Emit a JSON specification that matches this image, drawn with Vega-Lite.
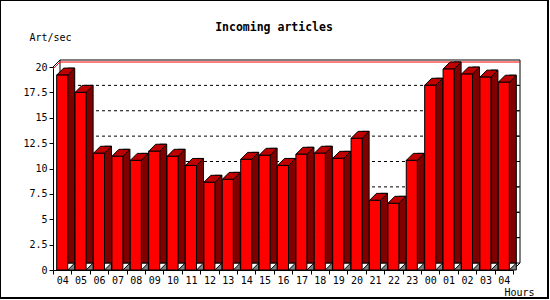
{
  "$schema": "https://vega.github.io/schema/vega-lite/v6.json",
  "width": 548,
  "height": 298,
  "autosize": "none",
  "padding": {"left": 0, "top": 0, "right": 2, "bottom": 2},
  "background": "white",
  "config": {
    "view": {"stroke": "black", "strokeWidth": 2},
    "axis": {"grid": false}
  },
  "title": {
    "text": "Incoming articles",
    "anchor": "middle",
    "frame": "group",
    "offset": -39,
    "baseline": "middle",
    "font": "DejaVu Sans Mono",
    "fontSize": 11.5,
    "fontWeight": "bold",
    "color": "black"
  },
  "resolve": {"axis": {"x": "independent", "y": "independent"}},
  "datasets": {
    "bars": [
      {"slot": "a04", "v": 19.2},
      {"slot": "a05", "v": 17.5},
      {"slot": "a06", "v": 11.5},
      {"slot": "a07", "v": 11.2},
      {"slot": "a08", "v": 10.8},
      {"slot": "a09", "v": 11.7},
      {"slot": "a10", "v": 11.2},
      {"slot": "a11", "v": 10.3},
      {"slot": "a12", "v": 8.64},
      {"slot": "a13", "v": 8.93},
      {"slot": "a14", "v": 10.9},
      {"slot": "a15", "v": 11.3},
      {"slot": "a16", "v": 10.3},
      {"slot": "a17", "v": 11.4},
      {"slot": "a18", "v": 11.5},
      {"slot": "a19", "v": 11.0},
      {"slot": "a20", "v": 12.97},
      {"slot": "a21", "v": 6.86},
      {"slot": "a22", "v": 6.57},
      {"slot": "a23", "v": 10.8},
      {"slot": "b00", "v": 18.2},
      {"slot": "b01", "v": 19.8},
      {"slot": "b02", "v": 19.3},
      {"slot": "b03", "v": 19.0},
      {"slot": "b04", "v": 18.5}
    ],
    "grid": [
      {"g": 2.5}, {"g": 5}, {"g": 7.5}, {"g": 10}, {"g": 12.5}, {"g": 15}, {"g": 17.5}
    ],
    "one": [{}]
  },
  "layer": [
    {
      "data": {"name": "one"},
      "mark": {"type": "rect", "fill": "white", "stroke": "black", "strokeWidth": 1, "xOffset": 7, "x2Offset": 7, "yOffset": -7, "y2Offset": -7},
      "encoding": {
        "x": {"datum": "a04", "bandPosition": 0, "type": "ordinal", "axis": null,
              "scale": {"type": "band", "domain": ["a04","a05","a06","a07","a08","a09","a10","a11","a12","a13","a14","a15","a16","a17","a18","a19","a20","a21","a22","a23","b00","b01","b02","b03","b04"], "range": [53, 513], "paddingInner": 0, "paddingOuter": 0}},
        "x2": {"datum": "b04", "bandPosition": 1},
        "y": {"datum": 0, "type": "quantitative", "axis": null,
              "scale": {"domain": [0, 20], "range": [270, 67], "nice": false, "zero": true}},
        "y2": {"datum": 20}
      }
    },
    {
      "data": {"name": "grid"},
      "mark": {"type": "rule", "stroke": "black", "strokeWidth": 1, "strokeDash": [3, 3], "xOffset": 7, "x2Offset": 7, "yOffset": -7, "y2Offset": -7},
      "encoding": {
        "x": {"datum": "a04", "bandPosition": 0, "type": "ordinal", "axis": null},
        "x2": {"datum": "b04", "bandPosition": 1},
        "y": {"field": "g", "type": "quantitative", "axis": null}
      }
    },
    {
      "data": {"name": "grid"},
      "mark": {"type": "rule", "stroke": "black", "strokeWidth": 1, "xOffset": 4, "x2Offset": 7, "yOffset": -7, "y2Offset": -7},
      "encoding": {
        "x": {"datum": "b04", "bandPosition": 1, "type": "ordinal", "axis": null},
        "x2": {"datum": "b04", "bandPosition": 1},
        "y": {"field": "g", "type": "quantitative", "axis": null}
      }
    },
    {
      "data": {"name": "one"},
      "mark": {"type": "rule", "stroke": "black", "strokeWidth": 1, "x2Offset": 7, "y2Offset": -7},
      "encoding": {
        "x": {"datum": "a04", "bandPosition": 0, "type": "ordinal", "axis": null},
        "x2": {"datum": "a04", "bandPosition": 0},
        "y": {"datum": 20, "type": "quantitative", "axis": null},
        "y2": {"datum": 20}
      }
    },
    {
      "data": {"name": "one"},
      "mark": {"type": "rule", "stroke": "black", "strokeWidth": 1, "x2Offset": 7, "y2Offset": -7},
      "encoding": {
        "x": {"datum": "b04", "bandPosition": 1, "type": "ordinal", "axis": null},
        "x2": {"datum": "b04", "bandPosition": 1},
        "y": {"datum": 0, "type": "quantitative", "axis": null},
        "y2": {"datum": 0}
      }
    },
    {
      "data": {"name": "bars"},
      "transform": [{"aggregate": [{"op": "max", "field": "v", "as": "m"}]}],
      "mark": {"type": "rule", "stroke": "#ff0000", "strokeWidth": 1, "xOffset": 7, "x2Offset": 7, "yOffset": -7, "y2Offset": -7},
      "encoding": {
        "x": {"datum": "a04", "bandPosition": 0, "type": "ordinal", "axis": null},
        "x2": {"datum": "b04", "bandPosition": 1},
        "y": {"field": "m", "type": "quantitative", "axis": null}
      }
    },
    {
      "data": {"name": "bars"},
      "transform": [{"aggregate": [{"op": "max", "field": "v", "as": "m"}]}],
      "mark": {"type": "rule", "stroke": "#ff0000", "strokeWidth": 1, "x2Offset": 7, "y2Offset": -7},
      "encoding": {
        "x": {"datum": "a04", "bandPosition": 0, "type": "ordinal", "axis": null},
        "x2": {"datum": "a04", "bandPosition": 0},
        "y": {"field": "m", "type": "quantitative", "axis": null},
        "y2": {"field": "m"}
      }
    },
    {
      "data": {"name": "bars"},
      "mark": {"type": "bar", "width": 7, "xOffset": 9.02, "yOffset": -7, "fill": "#800000", "stroke": "black", "strokeWidth": 1},
      "encoding": {
        "x": {"field": "slot", "type": "ordinal", "axis": null},
        "y": {"field": "v", "type": "quantitative", "axis": null}
      }
    },
    {
      "data": {"name": "bars"},
      "mark": {"type": "point", "shape": "M5.52,0L12.52,-7L12.52,0Z", "size": 4, "filled": true, "fill": "#808080", "stroke": "black", "strokeWidth": 1, "opacity": 1},
      "encoding": {
        "x": {"field": "slot", "type": "ordinal", "axis": null},
        "y": {"datum": 0, "type": "quantitative", "axis": null}
      }
    },
    {
      "data": {"name": "bars"},
      "mark": {"type": "point", "shape": "M-5.52,0L1.48,-7L12.52,-7L5.52,0Z", "size": 4, "filled": true, "fill": "#c00000", "stroke": "black", "strokeWidth": 1, "opacity": 1},
      "encoding": {
        "x": {"field": "slot", "type": "ordinal", "axis": null},
        "y": {"field": "v", "type": "quantitative", "axis": null}
      }
    },
    {
      "data": {"name": "bars"},
      "mark": {"type": "bar", "width": {"band": 0.6}, "fill": "#ff0000", "stroke": "black", "strokeWidth": 1},
      "encoding": {
        "x": {"field": "slot", "type": "ordinal",
              "axis": {"offset": -28, "labelExpr": "slice(datum.label, 1)", "tickBand": "extent", "bandPosition": 0.5, "tickSize": 4, "labelAngle": 0,
                       "labelOverlap": false,
                       "labelFont": "DejaVu Sans Mono", "labelFontSize": 10, "labelPadding": 1, "labelColor": "black",
                       "domainColor": "black", "tickColor": "black",
                       "title": "Hours", "titleX": 519, "titleY": 22, "titleAlign": "center", "titleBaseline": "middle",
                       "titleFont": "DejaVu Sans Mono", "titleFontSize": 10, "titleFontWeight": "normal", "titleColor": "black"}},
        "y": {"field": "v", "type": "quantitative",
              "axis": {"values": [0, 2.5, 5, 7.5, 10, 12.5, 15, 17.5, 20], "format": ".1~f", "offset": -53, "tickSize": 4,
                       "labelOverlap": false, "labelBound": false,
                       "domainColor": "black", "tickColor": "black", "labelColor": "black",
                       "labelFont": "DejaVu Sans Mono", "labelFontSize": 10, "labelPadding": 2,
                       "title": "Art/sec", "titleX": -3, "titleY": 37, "titleAngle": 0, "titleAlign": "center", "titleBaseline": "middle",
                       "titleFont": "DejaVu Sans Mono", "titleFontSize": 10, "titleFontWeight": "normal", "titleColor": "black"}}
      }
    }
  ]
}
